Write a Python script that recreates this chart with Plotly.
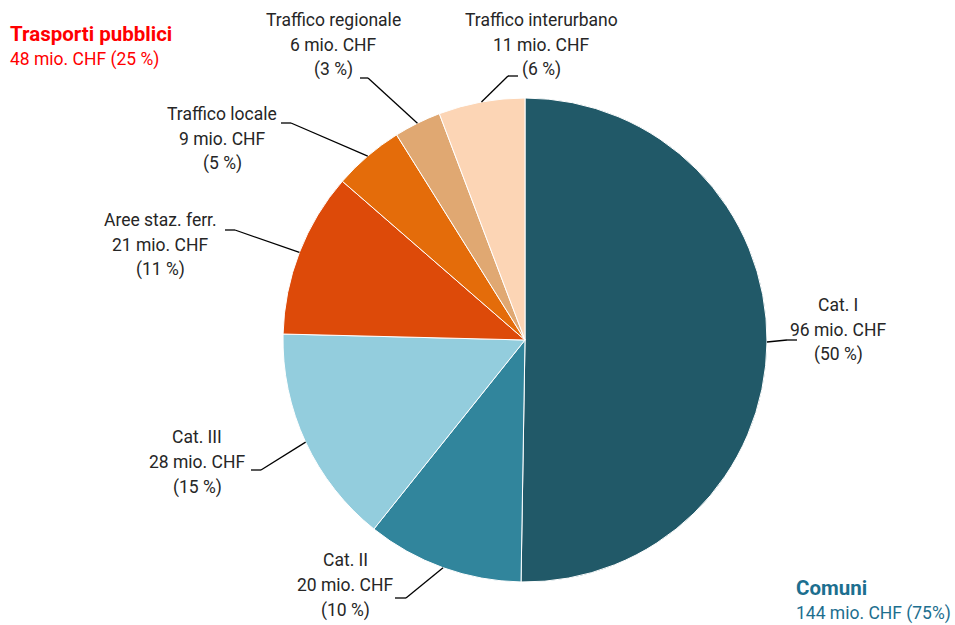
import math
import plotly.graph_objects as go

# ---- data ----
categories = ["Cat. I", "Cat. II", "Cat. III", "Aree staz. ferr.",
              "Traffico locale", "Traffico regionale", "Traffico interurbano"]
values = [96, 20, 28, 21, 9, 6, 11]
percent_labels = ["50 %", "10 %", "15 %", "11 %", "5 %", "3 %", "6 %"]
colors = ["#215968", "#31859C", "#93CDDD", "#DD4A09", "#E46C0A", "#E0A872", "#FCD5B5"]

group_names = ["Trasporti pubblici", "Comuni"]
group_values = ["48 mio. CHF (25 %)", "144 mio. CHF (75%)"]

# ---- layout geometry (pixels) ----
W, H = 955, 625
CX, CY, R = 525, 340, 242
LINE_H = 25

# label text centre (middle line) and leader elbow / end (pixels)
label_pos = [(838, 330), (345, 585), (197, 462), (160, 245), (222, 139), (333, 45), (541, 45)]
leader_elbow = [(787, 340), (406, 598), (261, 470), (235, 230), (291, 123), (368, 78), (508, 76)]
leader_end = [(797, 340), (395, 598), (251, 470), (225, 230), (281, 123), (360, 78), (518, 76)]

FONT = "Liberation Sans Narrow, Arial Narrow, Roboto, Liberation Sans, Arial, sans-serif"
TXT = "#262626"


def px(x):
    return x / W


def py(y):
    return 1 - y / H


fig = go.Figure(go.Pie(
    labels=categories,
    values=values,
    sort=False,
    direction="clockwise",
    rotation=0,
    textinfo="none",
    hoverinfo="label+value",
    marker=dict(colors=colors, line=dict(color="white", width=1)),
    domain=dict(x=[px(CX - R), px(CX + R)], y=[py(CY + R), py(CY - R)]),
    showlegend=False,
))

annotations = []
shapes = []
total = sum(values)
cum = 0.0
for i, (cat, v, pct) in enumerate(zip(categories, values, percent_labels)):
    mid = (cum + v / 2) / total
    cum += v
    ang = 2 * math.pi * mid
    rx = CX + R * math.sin(ang)
    ry = CY - R * math.cos(ang)
    ex, ey = leader_elbow[i]
    tx, ty = leader_end[i]
    shapes.append(dict(type="line", xref="paper", yref="paper",
                       x0=px(rx), y0=py(ry), x1=px(ex), y1=py(ey),
                       line=dict(color="black", width=1.3)))
    shapes.append(dict(type="line", xref="paper", yref="paper",
                       x0=px(ex), y0=py(ey), x1=px(tx), y1=py(ty),
                       line=dict(color="black", width=1.3)))
    lx, ly = label_pos[i]
    lines = [cat, f"{v} mio. CHF", f"({pct})"]
    for k, t in enumerate(lines):
        annotations.append(dict(
            x=px(lx), y=py(ly + (k - 1) * LINE_H), xref="paper", yref="paper",
            xanchor="center", yanchor="middle", showarrow=False, align="center",
            text=t,
            font=dict(family=FONT, size=17.5, color=TXT),
        ))

# group labels
annotations.append(dict(
    x=px(8), y=py(34), xref="paper", yref="paper", xanchor="left", yanchor="middle",
    showarrow=False, align="left",
    text=f"<b>{group_names[0]}</b>",
    font=dict(family=FONT, size=20.5, color="#FF0000"),
))
annotations.append(dict(
    x=px(8), y=py(59), xref="paper", yref="paper", xanchor="left", yanchor="middle",
    showarrow=False, align="left",
    text=group_values[0],
    font=dict(family=FONT, size=17.5, color="#FF0000"),
))
annotations.append(dict(
    x=px(794), y=py(588), xref="paper", yref="paper", xanchor="left", yanchor="middle",
    showarrow=False, align="left",
    text=f"<b>{group_names[1]}</b>",
    font=dict(family=FONT, size=20.5, color="#1D6F8F"),
))
annotations.append(dict(
    x=px(794), y=py(613), xref="paper", yref="paper", xanchor="left", yanchor="middle",
    showarrow=False, align="left",
    text=group_values[1],
    font=dict(family=FONT, size=17.5, color="#1D6F8F"),
))

fig.update_layout(
    width=W, height=H,
    margin=dict(l=0, r=0, t=0, b=0),
    paper_bgcolor="white", plot_bgcolor="white",
    annotations=annotations, shapes=shapes,
)

fig.write_html(
    "out.html",
    config={"displayModeBar": False},
    post_script="document.body.style.margin='0';document.body.style.overflow='hidden';",
)
